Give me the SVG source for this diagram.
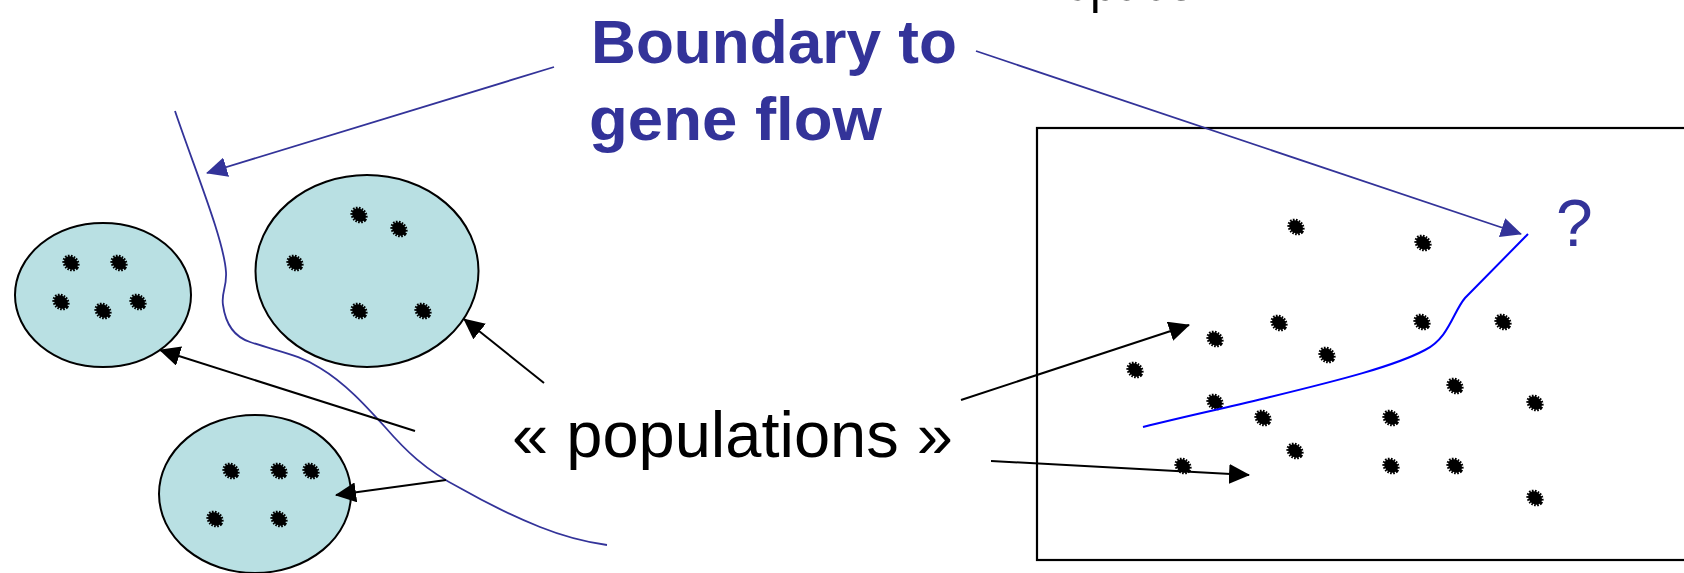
<svg xmlns="http://www.w3.org/2000/svg" xmlns:xlink="http://www.w3.org/1999/xlink" width="1684" height="573" viewBox="0 0 1684 573">
<style>
.pop{fill:#b9e0e3;stroke:#000;stroke-width:2}
.blue{fill:none;stroke:#333399;stroke-width:1.8}
.blk{fill:none;stroke:#000;stroke-width:2}
.bnd{fill:none;stroke:#0000ff;stroke-width:2}
.lbl{font-family:"Liberation Sans","DejaVu Sans",sans-serif}
</style>
<defs>
<marker id="ab" markerUnits="userSpaceOnUse" markerWidth="21" markerHeight="20" refX="20" refY="10" orient="auto"><path d="M0,0 L21,10 L0,20 z" fill="#333399"/></marker>
<marker id="ak" markerUnits="userSpaceOnUse" markerWidth="21" markerHeight="20" refX="20" refY="10" orient="auto"><path d="M0,0 L21,10 L0,20 z" fill="#000"/></marker>
<g id="dot"><ellipse rx="7.5" ry="6" transform="rotate(40)" fill="#000" stroke="#000" stroke-width="3.4" stroke-dasharray="1.5 1.2"/></g>
</defs>
<rect width="1684" height="573" fill="#fff"/>

<g id="space-box">
<rect x="1037" y="128" width="660" height="432" fill="none" stroke="#000" stroke-width="2.2"/>
<use xlink:href="#dot" x="1296" y="227"/>
<use xlink:href="#dot" x="1423" y="243"/>
<use xlink:href="#dot" x="1279" y="323"/>
<use xlink:href="#dot" x="1422" y="322"/>
<use xlink:href="#dot" x="1503" y="322"/>
<use xlink:href="#dot" x="1215" y="339"/>
<use xlink:href="#dot" x="1327" y="355"/>
<use xlink:href="#dot" x="1135" y="370"/>
<use xlink:href="#dot" x="1455" y="386"/>
<use xlink:href="#dot" x="1215" y="402"/>
<use xlink:href="#dot" x="1535" y="403"/>
<use xlink:href="#dot" x="1263" y="418"/>
<use xlink:href="#dot" x="1391" y="418"/>
<use xlink:href="#dot" x="1295" y="451"/>
<use xlink:href="#dot" x="1183" y="466"/>
<use xlink:href="#dot" x="1391" y="466"/>
<use xlink:href="#dot" x="1455" y="466"/>
<use xlink:href="#dot" x="1535" y="498"/>
<path class="bnd" d="M1528,234 L1465,298 C1453,312 1449,338 1425,350 C1395,366 1340,380 1270,397 C1230,407 1190,415 1143,427"/>
</g>

<g id="pop-a">
<ellipse class="pop" cx="103" cy="295" rx="88" ry="72"/>
<use xlink:href="#dot" x="71" y="263"/>
<use xlink:href="#dot" x="119" y="263"/>
<use xlink:href="#dot" x="61" y="302"/>
<use xlink:href="#dot" x="103" y="311"/>
<use xlink:href="#dot" x="138" y="302"/>
</g>

<g id="pop-b">
<ellipse class="pop" cx="367" cy="271" rx="111.5" ry="96"/>
<use xlink:href="#dot" x="359" y="215"/>
<use xlink:href="#dot" x="399" y="229"/>
<use xlink:href="#dot" x="295" y="263"/>
<use xlink:href="#dot" x="359" y="311"/>
<use xlink:href="#dot" x="423" y="311"/>
</g>

<g id="pop-c">
<ellipse class="pop" cx="255" cy="494" rx="96" ry="79"/>
<use xlink:href="#dot" x="231" y="471"/>
<use xlink:href="#dot" x="279" y="471"/>
<use xlink:href="#dot" x="311" y="471"/>
<use xlink:href="#dot" x="215" y="519"/>
<use xlink:href="#dot" x="279" y="519"/>
</g>

<g id="boundary-left">
<path class="blue" d="M175,111 C195,170 224,240 226,272 C227,288 221,292 223,305 C225,320 232,336 250,342 C280,352 300,355 320,368 C345,383 365,405 385,427 C405,450 425,470 460,488 C490,505 510,515 540,527 C565,537 585,542 607,545"/>
</g>

<g id="label-boundary">
<text class="lbl" x="591" y="63" font-size="62" font-weight="bold" fill="#333399" textLength="366" lengthAdjust="spacingAndGlyphs">Boundary to</text>
<text class="lbl" x="589" y="140" font-size="62" font-weight="bold" fill="#333399" textLength="293" lengthAdjust="spacingAndGlyphs">gene flow</text>
</g>

<g id="label-question">
<text class="lbl" x="1556" y="246" font-size="66" fill="#333399">?</text>
</g>

<g id="label-populations">
<text class="lbl" x="512" y="457" font-size="64" fill="#000" textLength="441" lengthAdjust="spacingAndGlyphs">« populations »</text>
</g>

<g id="label-space">
<text class="lbl" x="1066" y="0" font-size="62" fill="#000" textLength="128" lengthAdjust="spacingAndGlyphs">space</text>
</g>

<g id="connectors">
<line class="blue" x1="554" y1="67" x2="207" y2="173" marker-end="url(#ab)"/>
<line class="blue" x1="976" y1="51" x2="1521" y2="234" marker-end="url(#ab)"/>
<line class="blk" x1="415" y1="431" x2="160" y2="350" marker-end="url(#ak)"/>
<line class="blk" x1="544" y1="383" x2="464" y2="319" marker-end="url(#ak)"/>
<line class="blk" x1="446" y1="480" x2="336" y2="495" marker-end="url(#ak)"/>
<line class="blk" x1="961" y1="400" x2="1189" y2="325" marker-end="url(#ak)"/>
<line class="blk" x1="991" y1="461" x2="1249" y2="475" marker-end="url(#ak)"/>
</g>
</svg>
